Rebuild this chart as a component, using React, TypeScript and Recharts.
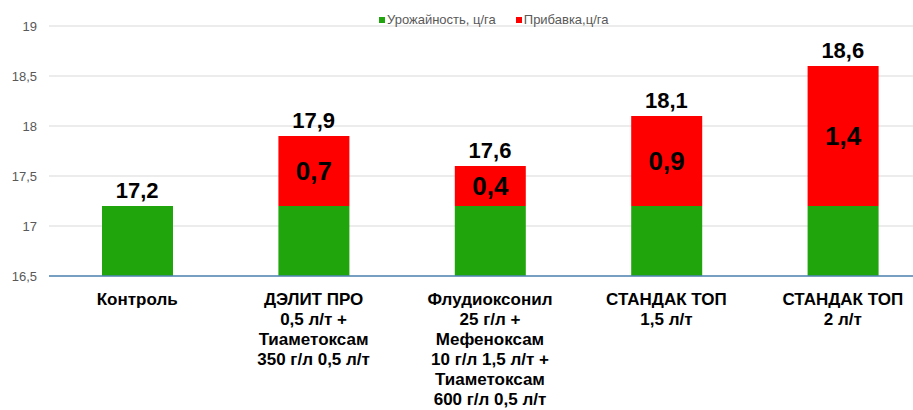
import React from "react";
import { ComposedChart, Bar, Line, XAxis, YAxis, CartesianGrid, Legend, LabelList } from "recharts";

const categories = [
  "Контроль",
  "ДЭЛИТ ПРО",
  "Флудиоксонил",
  "СТАНДАК ТОП 1,5",
  "СТАНДАК ТОП 2",
];
const tickLines: string[][] = [
  ["Контроль"],
  ["ДЭЛИТ ПРО", "0,5 л/т +", "Тиаметоксам", "350 г/л 0,5 л/т"],
  ["Флудиоксонил", "25 г/л +", "Мефеноксам", "10 г/л 1,5 л/т +", "Тиаметоксам", "600 г/л 0,5 л/т"],
  ["СТАНДАК ТОП", "1,5 л/т"],
  ["СТАНДАК ТОП", "2 л/т"],
];
const yieldValues = [17.2, 17.2, 17.2, 17.2, 17.2];
const gainValues = [0, 0.7, 0.4, 0.9, 1.4];
const totalValues = [17.2, 17.9, 17.6, 18.1, 18.6];
const yTicks = [16.5, 17, 17.5, 18, 18.5, 19];
const seriesNames = ["Урожайность, ц/га", "Прибавка,ц/га"];

const GREEN = "#20a60c";
const RED = "#ff0000";
const FONT = "'Liberation Sans', Arial, sans-serif";

const data = categories.map((c, i) => ({
  name: c,
  base: yieldValues[i],
  gain: gainValues[i],
  total: totalValues[i],
}));

const fmt = (v: number) => v.toFixed(1).replace(".", ",");

const XTick = (props: any) => {
  const { x, y, payload } = props;
  const lines = tickLines[payload.index] || [String(payload.value)];
  return (
    <text
      x={x}
      y={y}
      textAnchor="middle"
      fontFamily={FONT}
      fontWeight="bold"
      fontSize={17}
      fill="#000"
    >
      {lines.map((l, i) => (
        <tspan key={i} x={x} y={y + 29 + i * 20}>
          {l}
        </tspan>
      ))}
    </text>
  );
};

const TopLabel = (props: any) => {
  const { x, y, value } = props;
  if (value == null) return null;
  return (
    <text
      x={x}
      y={y - 8}
      textAnchor="middle"
      fontFamily={FONT}
      fontWeight="bold"
      fontSize={22}
      fill="#000"
    >
      {fmt(Number(value))}
    </text>
  );
};

const InnerLabel = (props: any) => {
  const { x, y, width, height, value } = props;
  const g = Number(value);
  if (!g) return null;
  return (
    <text
      x={x + width / 2}
      y={y + height / 2 + 9}
      textAnchor="middle"
      fontFamily={FONT}
      fontWeight="bold"
      fontSize={26}
      fill="#000"
    >
      {fmt(g)}
    </text>
  );
};

const LegendContent = () => (
  <div
    style={{
      display: "flex",
      alignItems: "center",
      fontFamily: FONT,
      fontSize: 13,
      color: "#595959",
      whiteSpace: "nowrap",
    }}
  >
    {[GREEN, RED].map((c, i) => (
      <span key={i} style={{ display: "flex", alignItems: "center", marginRight: i === 0 ? 20 : 0 }}>
        <span style={{ display: "inline-block", width: 6, height: 6, background: c, marginRight: 2 }} />
        {seriesNames[i]}
      </span>
    ))}
  </div>
);

export default function App() {
  return (
    <div
      style={{
        position: "fixed",
        top: 0,
        left: 0,
        width: 913,
        height: 410,
        overflow: "hidden",
        background: "#fff",
      }}
    >
      <ComposedChart
        width={931}
        height={410}
        data={data}
        margin={{ top: 26, right: 0, bottom: 0, left: 0 }}
        barSize={71}
      >
        <CartesianGrid vertical={false} stroke="#d9d9d9" />
        <XAxis
          dataKey="name"
          height={134}
          tickLine={false}
          tickSize={0}
          tickMargin={0}
          axisLine={{ stroke: "#4f86b5", strokeWidth: 1.5 }}
          tick={<XTick />}
          interval={0}
        />
        <YAxis
          width={49}
          domain={[16.5, 19]}
          ticks={yTicks}
          allowDataOverflow
          axisLine={false}
          tickLine={false}
          tickSize={0}
          tickMargin={12}
          tickFormatter={(v: number) => (Number.isInteger(v) ? String(v) : fmt(v))}
          tick={{ fill: "#595959", fontSize: 13, fontFamily: FONT }}
        />
        <Legend
          layout="vertical"
          verticalAlign="middle"
          align="center"
          wrapperStyle={{ top: 12, left: 379, width: 260 }}
          content={<LegendContent />}
        />
        <Bar dataKey="base" stackId="a" fill={GREEN} name={seriesNames[0]} isAnimationActive={false} />
        <Bar dataKey="gain" stackId="a" fill={RED} name={seriesNames[1]} isAnimationActive={false}>
          <LabelList dataKey="gain" content={<InnerLabel />} />
        </Bar>
        <Line
          dataKey="total"
          stroke="none"
          dot={false}
          activeDot={false}
          legendType="none"
          isAnimationActive={false}
        >
          <LabelList dataKey="total" content={<TopLabel />} />
        </Line>
      </ComposedChart>
    </div>
  );
}
